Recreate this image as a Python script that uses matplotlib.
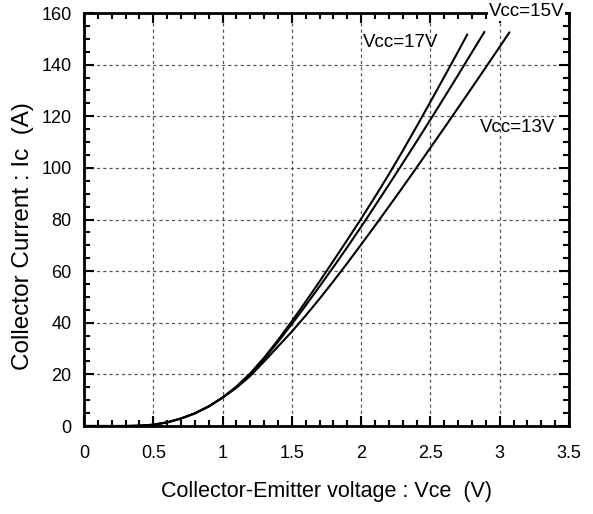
import matplotlib
matplotlib.use("Agg")
import matplotlib.pyplot as plt
from matplotlib.ticker import MultipleLocator

plt.rcParams['font.family'] = ['Liberation Sans', 'DejaVu Sans']

# Output characteristics: collector current vs collector-emitter voltage
vce_17 = [0.0, 0.3, 0.4, 0.5, 0.6, 0.7, 0.8, 0.9, 1.0, 1.1, 1.2, 1.3, 1.4, 1.5, 1.6, 1.7, 1.8,
          1.9, 2.0, 2.1, 2.2, 2.3, 2.4, 2.5, 2.6, 2.7, 2.766]
ic_17 = [0.0, 0.0, 0.1, 0.5, 1.4, 2.9, 4.9, 7.6, 11.0, 15.3, 20.4, 26.5, 33.3, 40.6, 48.2, 56.0, 64.0,
         72.1, 80.3, 88.8, 97.5, 106.6, 116.0, 125.6, 135.3, 145.1, 151.7]

vce_15 = [0.0, 0.3, 0.4, 0.5, 0.6, 0.7, 0.8, 0.9, 1.0, 1.1, 1.2, 1.3, 1.4, 1.5, 1.6, 1.7, 1.8,
          1.9, 2.0, 2.1, 2.2, 2.3, 2.4, 2.5, 2.6, 2.7, 2.8, 2.89]
ic_15 = [0.0, 0.0, 0.1, 0.5, 1.4, 2.9, 4.9, 7.6, 11.0, 15.1, 20.0, 26.0, 32.6, 39.5, 46.7, 54.1, 61.6,
         69.3, 77.2, 85.3, 93.5, 101.8, 110.2, 118.7, 127.3, 136.0, 144.8, 152.7]

vce_13 = [0.0, 0.3, 0.4, 0.5, 0.6, 0.7, 0.8, 0.9, 1.0, 1.1, 1.2, 1.3, 1.4, 1.5, 1.6, 1.7, 1.8,
          1.9, 2.0, 2.1, 2.2, 2.3, 2.4, 2.5, 2.6, 2.7, 2.8, 2.9, 3.0, 3.07]
ic_13 = [0.0, 0.0, 0.1, 0.5, 1.4, 2.9, 4.9, 7.6, 11.0, 14.8, 19.4, 25.0, 30.8, 36.6, 42.8, 49.3, 56.1,
         63.1, 70.3, 77.6, 85.0, 92.5, 100.1, 107.8, 115.5, 123.3, 131.1, 139.0, 146.9, 152.5]

x_ticks = [0, 0.5, 1, 1.5, 2, 2.5, 3, 3.5]
x_tick_labels = ["0", "0.5", "1", "1.5", "2", "2.5", "3", "3.5"]
y_ticks = [0, 20, 40, 60, 80, 100, 120, 140, 160]

fig = plt.figure(figsize=(5.93, 5.14), dpi=100)
ax = fig.add_axes([0.1417, 0.1712, 0.8178, 0.8035])

for v, i in [(vce_17, ic_17), (vce_15, ic_15), (vce_13, ic_13)]:
    ax.plot(v, i, color='black', linewidth=1.5, solid_capstyle='round', solid_joinstyle='round')

ax.set_xlim(0, 3.5)
ax.set_ylim(0, 160)
ax.set_xticks(x_ticks)
ax.set_xticklabels(x_tick_labels)
ax.set_yticks(y_ticks)
ax.xaxis.set_minor_locator(MultipleLocator(0.1))
ax.yaxis.set_minor_locator(MultipleLocator(5))

ax.tick_params(which='both', direction='in', top=True, right=True,
               labelsize=13, width=1.5)
ax.tick_params(axis='x', which='major', pad=14)
ax.tick_params(axis='y', which='major', pad=9)
ax.tick_params(which='major', length=7)
ax.tick_params(which='minor', length=4)

for s in ax.spines.values():
    s.set_linewidth(2)

ax.grid(True, which='major', linestyle=(0, (2.5, 2.5)), color='#555555', linewidth=0.9)

ax.set_xlabel("Collector-Emitter voltage : Vce  (V)", fontsize=15.5, labelpad=13)
ax.set_ylabel("Collector Current : Ic  (A)", fontsize=17.5, labelpad=5)
ax.yaxis.set_label_coords(-0.103, 0.46)

ax.text(2.01, 148.4, "Vcc=17V", fontsize=13.5, ha='left', va='center')
ax.text(2.857, 115.5, "Vcc=13V", fontsize=13.5, ha='left', va='center')
ax.text(3.196, 160.6, "Vcc=15V", fontsize=13.5, ha='center', va='center',
        bbox=dict(facecolor='white', edgecolor='none', pad=0.5), clip_on=False, zorder=5)

fig.savefig("out.png", dpi=100)
